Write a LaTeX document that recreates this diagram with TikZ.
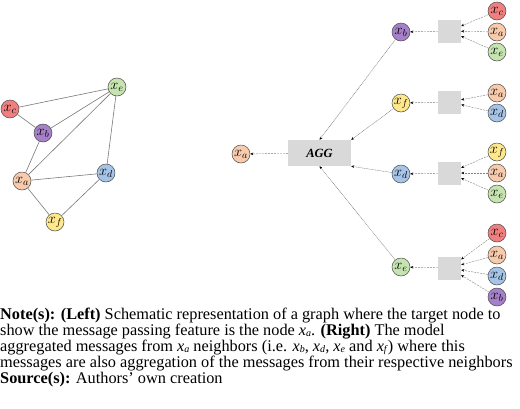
\documentclass[tikz,border=0pt]{standalone}
\usepackage{fontspec}
\setmainfont{Liberation Serif}
\usepackage{tikz}
\usetikzlibrary{arrows.meta}
\definecolor{nodeA}{RGB}{248,203,173}
\definecolor{nodeB}{RGB}{166,128,200}
\definecolor{nodeC}{RGB}{240,128,128}
\definecolor{nodeD}{RGB}{166,196,232}
\definecolor{nodeE}{RGB}{198,228,176}
\definecolor{nodeF}{RGB}{255,232,140}
\definecolor{aggGray}{RGB}{217,217,217}
\definecolor{edgeGray}{RGB}{120,120,120}
\newcommand{\capx}[1]{\textit{x}\raisebox{-0.15ex}{\fontsize{10}{10}\selectfont\textit{#1}}}

\begin{document}
\begin{tikzpicture}[
    x=1pt, y=-1pt,
    vert/.style={circle, draw=black!70, line width=0.5pt, minimum size=18pt, inner sep=0pt, font=\fontsize{14}{14}\selectfont},
    agg/.style={rectangle, fill=aggGray, minimum width=63pt, minimum height=26pt, inner sep=0pt, font=\fontsize{12.5}{12.5}\selectfont\bfseries\itshape},
    msg/.style={rectangle, fill=aggGray, minimum width=23pt, minimum height=23pt, inner sep=0pt},
    link/.style={draw=edgeGray, line width=0.6pt},
    pass/.style={draw=black!50, line width=0.4pt, dash pattern=on 2pt off 1pt, -{Stealth[black, length=3pt, width=2.6pt]}},
    far/.style={draw=black!55, line width=0.4pt, dash pattern=on 1pt off 0.6pt, -{Stealth[black, length=3pt, width=2.6pt]}}
]
\useasboundingbox (0,0) rectangle (520,408);

% Left graph
\node[vert, fill=nodeE] (ge) at (117,87)  {$x_e$};
\node[vert, fill=nodeC] (gc) at (10,109)  {$x_c$};
\node[vert, fill=nodeB] (gb) at (43,133)  {$x_b$};
\node[vert, fill=nodeA] (ga) at (22,181)  {$x_a$};
\node[vert, fill=nodeD] (gd) at (106,173) {$x_d$};
\node[vert, fill=nodeF] (gf) at (55,222)  {$x_f$};

\draw[link] (gc) -- (ge);
\draw[link] (gc) -- (gb);
\draw[link] (gb) -- (ge);
\draw[link] (gb) -- (ga);
\draw[link] (ga) -- (ge);
\draw[link] (ga) -- (gd);
\draw[link] (ga) -- (gf);
\draw[link] (gf) -- (gd);
\draw[link] (ge) -- (gd);

% Target and aggregation
\node[vert, fill=nodeA] (ta)  at (241,154)   {$x_a$};
\node[agg]              (aggr) at (319.5,153) {AGG};

% Neighbors of the target
\node[vert, fill=nodeB] (nb) at (401,32)  {$x_b$};
\node[vert, fill=nodeF] (nf) at (401,103) {$x_f$};
\node[vert, fill=nodeD] (nd) at (401,174) {$x_d$};
\node[vert, fill=nodeE] (ne) at (401,267) {$x_e$};

% Message boxes
\node[msg] (mb) at (449.5,31)  {};
\node[msg] (mf) at (449.5,102) {};
\node[msg] (md) at (449.5,173) {};
\node[msg] (me) at (449.5,268) {};

% Second hop neighbors
\node[vert, fill=nodeC] (bc) at (497,11)  {$x_c$};
\node[vert, fill=nodeA] (ba) at (497,32)  {$x_a$};
\node[vert, fill=nodeE] (be) at (497,52)  {$x_e$};
\node[vert, fill=nodeA] (fa) at (497,93)  {$x_a$};
\node[vert, fill=nodeD] (fd) at (497,113) {$x_d$};
\node[vert, fill=nodeF] (df) at (497,152) {$x_f$};
\node[vert, fill=nodeA] (da) at (497,173) {$x_a$};
\node[vert, fill=nodeE] (de) at (497,194) {$x_e$};
\node[vert, fill=nodeC] (ec) at (497,233) {$x_c$};
\node[vert, fill=nodeA] (ea) at (497,255) {$x_a$};
\node[vert, fill=nodeD] (ed) at (497,276) {$x_d$};
\node[vert, fill=nodeB] (eb) at (497,297) {$x_b$};

% Aggregation to target
\draw[pass] (aggr) -- (ta);

% Neighbors to aggregation
\draw[far] (nb) -- (aggr.north);
\draw[far] (nf) -- (aggr.north east);
\draw[far] (nd) -- (aggr.south east);
\draw[far] (ne) -- (aggr.south);

% Boxes to neighbors
\draw[pass] (mb) -- (nb);
\draw[pass] (mf) -- (nf);
\draw[pass] (md) -- (nd);
\draw[pass] (me) -- (ne);

% Second hop to boxes
\draw[pass] (bc) -- (mb);
\draw[pass] (ba) -- (mb);
\draw[pass] (be) -- (mb);
\draw[pass] (fa) -- (mf);
\draw[pass] (fd) -- (mf);
\draw[pass] (df) -- (md);
\draw[pass] (da) -- (md);
\draw[pass] (de) -- (md);
\draw[pass] (ec) -- (me);
\draw[pass] (ea) -- (me);
\draw[pass] (ed) -- (me);
\draw[pass] (eb) -- (me);

% Caption
\node[anchor=north west, align=left, inner sep=0pt, font=\fontsize{16.3}{15.9}\selectfont] (note) at (0,308)
{\textbf{Note(s): (Left)} Schematic representation of a graph where the target node to\\
show the message passing feature is the node \capx{a}. \textbf{(Right)} The model\\
aggregated messages from \capx{a} neighbors (i.e. \capx{b}, \capx{d}, \capx{e} and \capx{f}) where this\\
messages are also aggregation of the messages from their respective neighbors\\
\textbf{Source(s):} Authors’ own creation};

\end{tikzpicture}
\end{document}
